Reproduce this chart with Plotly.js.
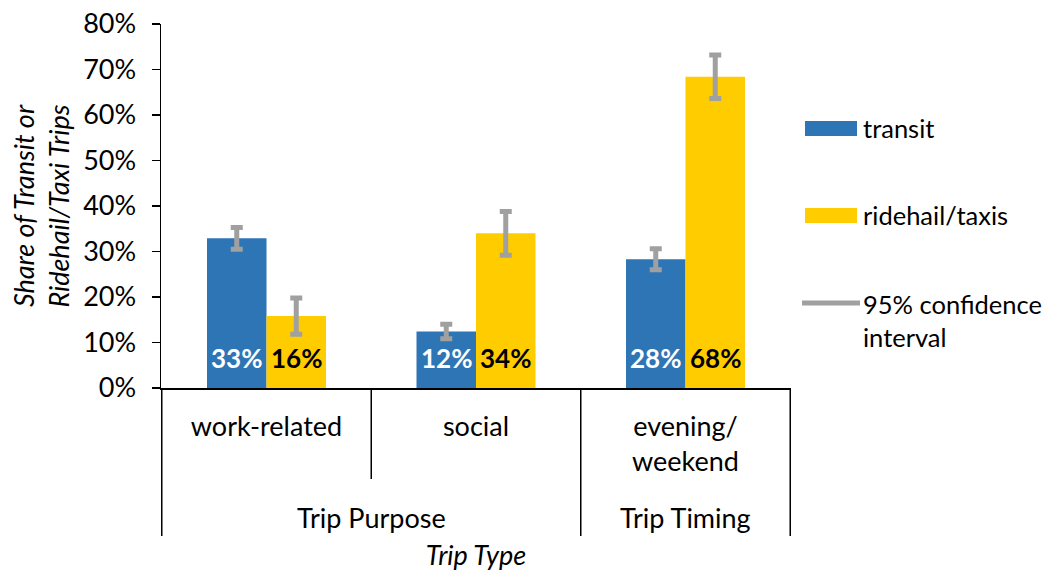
<!DOCTYPE html>
<html>
<head>
<meta charset="utf-8">
<script src="https://cdn.plot.ly/plotly-3.0.1.min.js"></script>
<style>html,body{margin:0;padding:0;background:#fff;}#chart{width:1052px;height:571px;}</style>
</head>
<body>
<div id="chart"></div>
<script>
// ---- data ----
const categories = ['work-related', 'social', 'evening/weekend'];
const categoryLabels = ['work-related', 'social', 'evening/<br>weekend'];
const groups = ['Trip Purpose', 'Trip Purpose', 'Trip Timing'];
const transit = [0.329, 0.124, 0.283];
const transitErr = [0.024, 0.016, 0.023];
const ridehail = [0.158, 0.340, 0.684];
const ridehailErr = [0.040, 0.048, 0.048];
const yTickVals = [0, 0.1, 0.2, 0.3, 0.4, 0.5, 0.6, 0.7, 0.8];
const seriesNames = ['transit', 'ridehail/taxis', '95% confidence<br>interval'];

const FONT = 'Lato, "Open Sans", sans-serif';
const FS = 27;
const LEG_FS = 25.5;
const BLUE = '#2E75B6', YELLOW = '#FFCC00', GREY = '#A0A0A0';

const traces = [
  {type: 'bar', name: seriesNames[0], x: categories, y: transit,
   marker: {color: BLUE}, showlegend: false, hoverinfo: 'skip',
   error_y: {type: 'data', array: transitErr, visible: true, color: GREY, thickness: 5, width: 6}},
  {type: 'bar', name: seriesNames[1], x: categories, y: ridehail,
   marker: {color: YELLOW}, showlegend: false, hoverinfo: 'skip',
   error_y: {type: 'data', array: ridehailErr, visible: true, color: GREY, thickness: 5, width: 6}}
];

const annotations = [];
const shapes = [];
// value labels at bar bases
const halfBar = 29.85;
[[transit, -halfBar, '#FFFFFF'], [ridehail, halfBar, '#000000']].forEach(([vals, dx, col]) => {
  vals.forEach((v, i) => {
    annotations.push({x: categories[i], y: 0, xref: 'x', yref: 'y', xshift: dx, yshift: 30,
      yanchor: 'middle', xanchor: 'center', showarrow: false,
      text: '<b>' + Math.round(v * 100) + '%</b>', font: {family: FONT, size: 26, color: col}});
  });
});
// group labels
const uniq = [...new Set(groups)];
uniq.forEach(g => {
  const idx = groups.map((x, i) => x === g ? i : -1).filter(i => i >= 0);
  const mid = (idx[0] + idx[idx.length - 1]) / 2;
  annotations.push({x: mid, y: -0.357, xref: 'x', yref: 'paper', showarrow: false,
    xanchor: 'center', yanchor: 'middle', text: g, font: {family: FONT, size: FS, color: '#000'}});
});
// dividers
const lineStyle = {color: '#000', width: 1.5};
for (let i = 0; i <= categories.length; i++) {
  const xpos = i - 0.5;
  const isGroupEdge = i === 0 || i === categories.length || groups[i] !== groups[i - 1];
  shapes.push({type: 'line', xref: 'x', yref: 'paper', x0: xpos, x1: xpos, y0: 0,
    y1: isGroupEdge ? -0.4066 : -0.25, line: lineStyle});
}
// legend (manual)
shapes.push({type: 'rect', xref: 'paper', yref: 'paper', x0: 1.0222, x1: 1.1048, y0: 0.6923, y1: 0.7335,
  fillcolor: BLUE, line: {width: 0}});
shapes.push({type: 'rect', xref: 'paper', yref: 'paper', x0: 1.0222, x1: 1.1048, y0: 0.4533, y1: 0.4945,
  fillcolor: YELLOW, line: {width: 0}});
shapes.push({type: 'line', xref: 'paper', yref: 'paper', x0: 1.0175, x1: 1.1095, y0: 0.2335, y1: 0.2335,
  line: {color: GREY, width: 5}});
[[seriesNames[0], 0.7143], [seriesNames[1], 0.4753], [seriesNames[2], 0.1868]].forEach(([t, y]) => {
  annotations.push({x: 1.1111, y: y, xref: 'paper', yref: 'paper', xanchor: 'left', yanchor: 'middle',
    align: 'left', showarrow: false, text: t, font: {family: FONT, size: LEG_FS, color: '#000'}});
});

const layout = {
  width: 1052, height: 571,
  margin: {l: 161, r: 261, t: 24, b: 183},
  paper_bgcolor: '#fff', plot_bgcolor: '#fff',
  font: {family: FONT, size: FS, color: '#000'},
  barmode: 'group', bargap: 0.432, bargroupgap: 0,
  showlegend: false,
  xaxis: {type: 'category', tickvals: categories, ticktext: categoryLabels,
    showline: true, linecolor: '#000', linewidth: 1.5, ticks: '', showgrid: false,
    zeroline: false, ticklabelstandoff: 14, automargin: false, fixedrange: true,
    tickfont: {family: FONT, size: FS, color: '#000'},
    title: {text: 'Trip Type', standoff: 76, font: {family: FONT, size: FS, color: '#000', style: 'italic'}}},
  yaxis: {range: [0, 0.8], tickvals: yTickVals, tickformat: '.0%', showline: true, linecolor: '#000',
    linewidth: 1.5, ticks: 'outside', ticklen: 8, tickwidth: 1.5, tickcolor: '#000', showgrid: false,
    zeroline: false, automargin: false, ticklabelstandoff: 10, fixedrange: true,
    tickfont: {family: FONT, size: FS, color: '#000'},
    title: {text: 'Share of Transit or<br>Ridehail/Taxi Trips', standoff: 5,
      font: {family: FONT, size: FS, color: '#000', style: 'italic'}}},
  annotations: annotations,
  shapes: shapes
};

Plotly.newPlot('chart', traces, layout, {displayModeBar: false, staticPlot: true});
</script>
</body>
</html>
